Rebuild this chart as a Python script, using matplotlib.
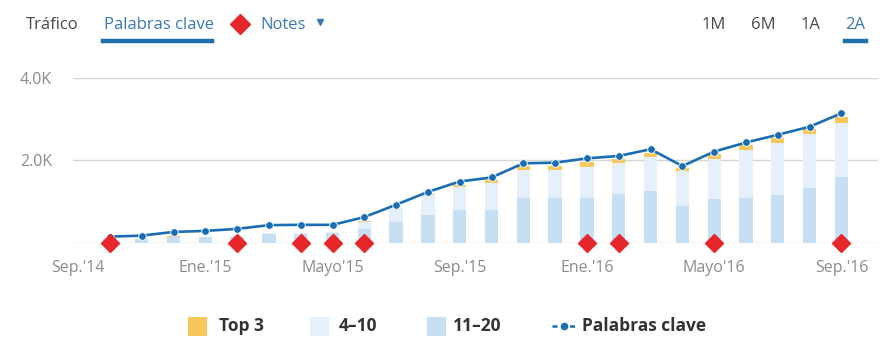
import matplotlib.pyplot as plt
import numpy as np
from matplotlib.patches import Rectangle
from matplotlib.lines import Line2D

plt.rcParams["font.family"] = ["Open Sans", "DejaVu Sans"]

# Monthly data, Oct.'14 .. Sep.'16
palabras_clave = [155, 178, 268, 293, 342, 432, 440, 439, 627, 927, 1236, 1488,
                  1586, 1928, 1944, 2049, 2106, 2269, 1862, 2212, 2432, 2619, 2814, 3139]
pos_11_20 = [90, 100, 140, 140, 150, 220, 220, 230, 350, 500, 680, 790,
             790, 1100, 1100, 1100, 1180, 1250, 890, 1070, 1100, 1170, 1340, 1590]
pos_4_10 = [20, 15, 15, 10, 20, 15, 20, 30, 170, 340, 490, 560,
            650, 660, 670, 750, 765, 830, 850, 970, 1145, 1260, 1295, 1305]
top_3 = [3, 3, 3, 3, 4, 4, 5, 5, 10, 15, 20, 60,
         80, 105, 105, 115, 95, 105, 75, 105, 120, 105, 120, 160]
note_months = [0, 4, 6, 7, 8, 15, 16, 19, 23]

tick_pos = [-1, 3, 7, 11, 15, 19, 23]
tick_labels = ["Sep.'14", "Ene.'15", "Mayo'15", "Sep.'15", "Ene.'16", "Mayo'16", "Sep.'16"]

c_top3 = "#f7c75c"
c_4_10 = "#e6f0fa"
c_11_20 = "#c6dff3"
c_line = "#1a6db2"
c_note = "#e5262b"
c_grey = "#8c8c8c"
c_blue_txt = "#3a78b2"
c_dark = "#4a4a4a"

x = np.arange(len(palabras_clave))
a = np.array(pos_11_20)
b = np.array(pos_4_10)
c = np.array(top_3)

fig = plt.figure(figsize=(8.86, 3.56), dpi=100)
ax = fig.add_axes([73 / 886, 1 - 243 / 356, (878 - 73) / 886, (243 - 77.7) / 356])

w = 0.42
ax.bar(x, a, width=w, color=c_11_20, zorder=2)
ax.bar(x, b, width=w, bottom=a, color=c_4_10, zorder=2)
ax.bar(x, c, width=w, bottom=a + b, color=c_top3, zorder=2)

ax.plot(x, palabras_clave, color=c_line, lw=1.9, marker="o", ms=5.5,
        mec="white", mew=0.6, zorder=4)
ax.plot(note_months, [0] * len(note_months), linestyle="none", marker="D",
        ms=9.5, color=c_note, clip_on=False, zorder=5)

ax.set_xlim(-1.16, 24.15)
ax.set_ylim(0, 4000)
ax.set_yticks([0, 2000, 4000])
ax.set_yticklabels(["", "2.0K", "4.0K"])
ax.set_xticks(tick_pos)
ax.set_xticklabels(tick_labels)
ax.tick_params(length=0, colors=c_grey, labelsize=11.5)
ax.tick_params(axis="y", pad=15)
ax.tick_params(axis="x", pad=12)
ax.yaxis.grid(True, color="#d6d6d6", lw=1, zorder=0)
ax.set_axisbelow(True)
for s in ax.spines.values():
    s.set_visible(False)


def fx(px):
    return px / 886


def fy(py):
    return 1 - py / 356


# header tabs
hy = 25
fig.text(fx(26), fy(hy), "Tráfico", fontsize=12, color=c_dark, va="center")
fig.text(fx(104), fy(hy), "Palabras clave", fontsize=12, color=c_blue_txt, va="center")
fig.add_artist(Line2D([fx(103), fx(212)], [fy(41), fy(41)], color="#1f6fa8", lw=3.2))
fig.add_artist(Line2D([fx(240)], [fy(24)], marker="D", ms=10.5, color=c_note, ls="none"))
fig.text(fx(260), fy(hy), "Notes", fontsize=12, color=c_blue_txt, va="center")
fig.add_artist(Line2D([fx(320)], [fy(22)], marker="v", ms=4.5, color=c_blue_txt, ls="none"))
for lab, px, col in [("1M", 714, c_dark), ("6M", 763, c_dark),
                     ("1A", 810, c_dark), ("2A", 855, c_blue_txt)]:
    fig.text(fx(px), fy(hy), lab, fontsize=12, color=col, va="center", ha="center")
fig.add_artist(Line2D([fx(845), fx(866)], [fy(41), fy(41)], color="#1f6fa8", lw=3.2))

# legend
ly = 326
for sx, tx, col, lab in [(188, 219, c_top3, "Top 3"), (310, 339, c_4_10, "4–10"),
                         (427, 453, c_11_20, "11–20")]:
    fig.add_artist(Rectangle((fx(sx), fy(ly + 9.5)), fx(19), 19 / 356,
                             facecolor=col, edgecolor="none"))
    fig.text(fx(tx), fy(ly), lab, fontsize=12.5, fontweight="bold",
             color="#333333", va="center")
fig.add_artist(Line2D([fx(552), fx(576)], [fy(ly), fy(ly)], color=c_line, lw=1.8,
                      ls=(0, (2, 1.5))))
fig.add_artist(Line2D([fx(564)], [fy(ly)], marker="o", ms=4.5, color=c_line, ls="none"))
fig.text(fx(582), fy(ly), "Palabras clave", fontsize=12.5, fontweight="bold",
         color="#333333", va="center")

fig.savefig("out.png", dpi=100)
